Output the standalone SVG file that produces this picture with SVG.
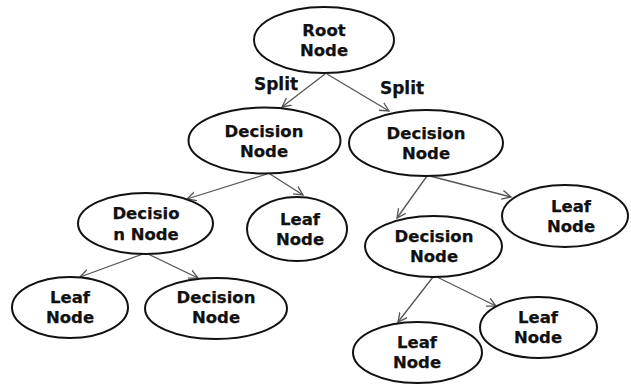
<svg xmlns="http://www.w3.org/2000/svg" width="631" height="385" viewBox="0 0 631 385">
<style>
.n ellipse{fill:#fff;stroke:#111;stroke-width:2}
text{font-family:"DejaVu Sans","Liberation Sans",sans-serif;font-weight:bold;font-size:16.5px;fill:#111;stroke:#111;stroke-width:0.25;text-anchor:middle}
.lbl{font-size:17px}
.c line{stroke:#555;stroke-width:1.3;marker-end:url(#ah)}
</style>
<defs>
<marker id="ah" markerUnits="userSpaceOnUse" markerWidth="12" markerHeight="12" refX="9" refY="5" orient="auto">
<path d="M0,0.5 L9,5 L0,9.5" fill="none" stroke="#555" stroke-width="1.3"/>
</marker>
</defs>
<rect width="631" height="385" fill="#fff"/>
<g class="c" id="connectors">
<line x1="325" y1="74" x2="282" y2="107"/>
<line x1="327" y1="74" x2="389" y2="111"/>
<line x1="267" y1="174" x2="187" y2="199"/>
<line x1="270" y1="174" x2="303" y2="195"/>
<line x1="143" y1="254" x2="80" y2="277"/>
<line x1="148" y1="254" x2="198" y2="278"/>
<line x1="427" y1="176" x2="397" y2="218"/>
<line x1="430" y1="176" x2="511" y2="197"/>
<line x1="433" y1="277" x2="398" y2="322"/>
<line x1="437" y1="277" x2="496" y2="306"/>
</g>
<g id="labels">
<text class="lbl" x="276" y="90">Split</text>
<text class="lbl" x="402" y="94">Split</text>
</g>
<g class="n" id="root"><ellipse cx="324" cy="40" rx="70" ry="33"/><text x="324" y="36">Root</text><text x="324" y="56">Node</text></g>
<g class="n" id="dec-left"><ellipse cx="264.5" cy="140.5" rx="76" ry="33"/><text x="264" y="137">Decision</text><text x="264" y="157">Node</text></g>
<g class="n" id="dec-right"><ellipse cx="426" cy="143" rx="77" ry="33"/><text x="426" y="139">Decision</text><text x="426" y="159">Node</text></g>
<g class="n" id="dec-ll"><ellipse cx="145.5" cy="223.5" rx="67.5" ry="30.5"/><text x="146" y="219">Decisio</text><text x="146" y="240">n Node</text></g>
<g class="n" id="leaf-mid"><ellipse cx="297" cy="229" rx="50" ry="32"/><text x="300" y="225">Leaf</text><text x="300" y="245">Node</text></g>
<g class="n" id="leaf-bl"><ellipse cx="70" cy="307.5" rx="58" ry="30.5"/><text x="70" y="303">Leaf</text><text x="70" y="323">Node</text></g>
<g class="n" id="dec-bm"><ellipse cx="216" cy="308.5" rx="71" ry="30.5"/><text x="216" y="303">Decision</text><text x="216" y="323">Node</text></g>
<g class="n" id="leaf-right"><ellipse cx="565" cy="216" rx="63" ry="31"/><text x="571" y="212">Leaf</text><text x="571" y="232">Node</text></g>
<g class="n" id="dec-lower"><ellipse cx="433.5" cy="246.5" rx="68.5" ry="30.5"/><text x="434" y="242">Decision</text><text x="434" y="262">Node</text></g>
<g class="n" id="leaf-bottom"><ellipse cx="417.5" cy="352.5" rx="64.5" ry="30.5"/><text x="417" y="348">Leaf</text><text x="417" y="368">Node</text></g>
<g class="n" id="leaf-br"><ellipse cx="538.5" cy="327.5" rx="58.5" ry="30.5"/><text x="538" y="323">Leaf</text><text x="538" y="343">Node</text></g>
</svg>
